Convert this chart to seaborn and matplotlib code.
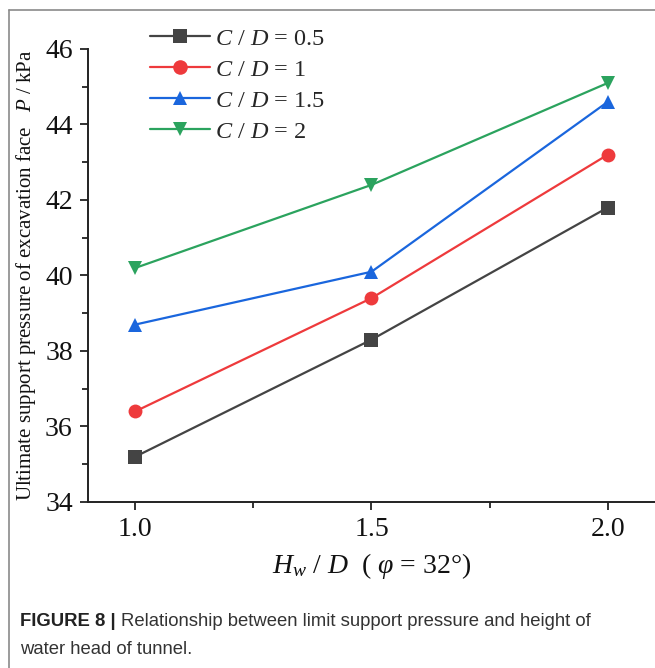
import matplotlib
matplotlib.use("Agg")
import matplotlib.pyplot as plt
from matplotlib.lines import Line2D
from matplotlib.ticker import MultipleLocator
import seaborn as sns
import pandas as pd

hw_d = [1.0, 1.5, 2.0]
cd_labels = ["$C$ / $D$ = 0.5", "$C$ / $D$ = 1", "$C$ / $D$ = 1.5", "$C$ / $D$ = 2"]
p_cd05 = [35.2, 38.3, 41.8]
p_cd1 = [36.4, 39.4, 43.2]
p_cd15 = [38.7, 40.1, 44.6]
p_cd2 = [40.2, 42.4, 45.1]
y_ticks = [34, 36, 38, 40, 42, 44, 46]
x_ticks = [1.0, 1.5, 2.0]

series = [p_cd05, p_cd1, p_cd15, p_cd2]
rows = []
for lab, vals in zip(cd_labels, series):
    for x, v in zip(hw_d, vals):
        rows.append({"Hw/D": x, "P": v, "case": lab})
df = pd.DataFrame(rows)

sns.set_theme(style="ticks")
plt.rcParams["font.family"] = ["Liberation Serif", "DejaVu Serif"]
plt.rcParams["mathtext.fontset"] = "custom"
plt.rcParams["mathtext.rm"] = "Liberation Serif"
plt.rcParams["mathtext.it"] = "Liberation Serif:italic"
plt.rcParams["mathtext.bf"] = "Liberation Serif:bold"

colors = ["#444444", "#ee3a3c", "#1a66dd", "#2ba35e"]
markers = ["s", "o", "^", "v"]

fig = plt.figure(figsize=(6.55, 6.68), dpi=100)
ax = fig.add_axes([88 / 655, 1 - 502 / 668, (655 - 88) / 655, (502 - 49) / 668])

sns.lineplot(data=df, x="Hw/D", y="P", hue="case", style="case",
             palette=dict(zip(cd_labels, colors)),
             markers=dict(zip(cd_labels, markers)),
             dashes=False, markersize=10, linewidth=1.6,
             markeredgewidth=0, ax=ax, legend=False)

ax.set_xlim(0.9, 2.1)
ax.set_ylim(34, 46)
ax.set_xticks(x_ticks)
ax.set_xticklabels([f"{v:.1f}" for v in x_ticks])
ax.set_yticks(y_ticks)
ax.set_yticklabels([str(v) for v in y_ticks])
ax.xaxis.set_minor_locator(MultipleLocator(0.25))
ax.yaxis.set_minor_locator(MultipleLocator(1))
ax.tick_params(axis="both", which="major", direction="out", length=6, width=1.3,
               labelsize=20, color="#222222", labelcolor="#111111", pad=5)
ax.tick_params(axis="both", which="minor", direction="out", length=4, width=1.3,
               color="#222222")
for s in ["top", "right"]:
    ax.spines[s].set_visible(False)
for s in ["left", "bottom"]:
    ax.spines[s].set_linewidth(1.4)
    ax.spines[s].set_color("#222222")

ax.set_xlabel("$H_w$ / $D$  ( $\\varphi$ = 32°)", fontsize=20, labelpad=6, color="#111111")
ax.set_ylabel("Ultimate support pressure of excavation face   $P$ / kPa",
              fontsize=15, labelpad=5, color="#111111")

handles = [Line2D([0], [0], color=c, marker=m, markersize=10.5, linewidth=1.6,
                  markeredgewidth=0) for c, m in zip(colors, markers)]
fig.legend(handles, cd_labels, loc="upper left",
           bbox_to_anchor=(140 / 655, 1 - 18 / 668), frameon=False,
           fontsize=17.5, handlelength=2.5, labelspacing=0.37, handletextpad=0.2,
           borderaxespad=0)

# screenshot frame
fig.add_artist(Line2D([9 / 655, 1], [1 - 10 / 668, 1 - 10 / 668],
                      transform=fig.transFigure, color="#8a8a8a", linewidth=1.2))
fig.add_artist(Line2D([9 / 655, 9 / 655], [0, 1 - 10 / 668],
                      transform=fig.transFigure, color="#8a8a8a", linewidth=1.2))

cap_size = 13.3
t1 = fig.text(20 / 655, 1 - 622 / 668, "FIGURE 8 | ", fontsize=cap_size, va="center",
              ha="left", family="Liberation Sans", fontweight="bold", color="#222222")
fig.canvas.draw()
bb = t1.get_window_extent()
fig.text(bb.x1 / (6.55 * 100), 1 - 622 / 668,
         "Relationship between limit support pressure and height of",
         fontsize=cap_size, va="center", ha="left", family="Liberation Sans", color="#333333")
fig.text(20 / 655, 1 - 649 / 668, "water head of tunnel.", fontsize=cap_size,
         va="center", ha="left", family="Liberation Sans", color="#333333")

fig.savefig("out.png", dpi=100)
